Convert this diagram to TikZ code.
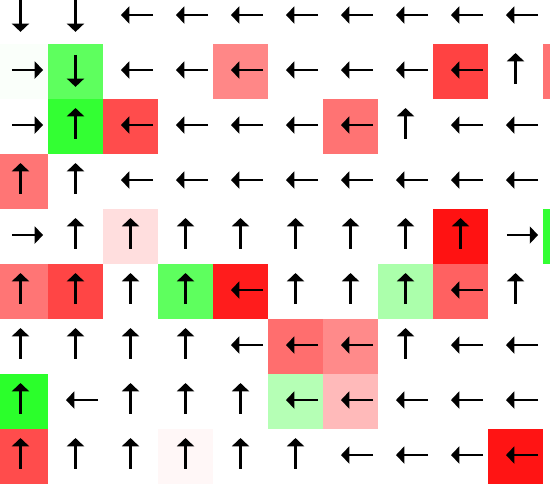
\documentclass[tikz,border=0pt]{standalone}
\usepackage{tikz}
\usetikzlibrary{arrows.meta}

\begin{document}
\begin{tikzpicture}[x=1cm, y=1cm, mv/.style={line width=1.3pt, -{Triangle[width=8.8pt, length=4.3pt]}}]
    \useasboundingbox (-0.3727, 0.3) rectangle (9.6273, -8.6091);

%cell (c, r) is centred at (c, -r)
%green = gain, red = loss

    % coloured cells
    \foreach \c/\r/\k in {0/1/green!2, 1/1/green!63, 4/1/red!47, 8/1/red!74, 10/1/red!55,
            1/2/green!80, 2/2/red!70, 6/2/red!55,
            0/3/red!54,
            2/4/red!13, 8/4/red!93, 10/4/green!80,
            0/5/red!54, 1/5/red!73, 3/5/green!63, 4/5/red!89, 7/5/green!33, 8/5/red!62,
            5/6/red!57, 6/6/red!46,
            0/7/green!83, 5/7/green!29, 6/7/red!27,
            0/8/red!70, 3/8/red!3, 9/8/red!92}
        \fill[\k] (\c-0.5, -\r-0.5) rectangle (\c+0.5, -\r+0.5);

    % down
    \foreach \c/\r in {0/0, 1/0, 1/1}
        \draw[mv] (\c, -\r+0.30) -- (\c, -\r-0.28);
    % right
    \foreach \c/\r in {0/1, 0/2, 0/4, 9/4}
        \draw[mv] (\c-0.155, -\r+0.027) -- (\c+0.41, -\r+0.027);
    % up
    \foreach \c/\r in {9/1, 1/2, 7/2, 0/3, 1/3,
            1/4, 2/4, 3/4, 4/4, 5/4, 6/4, 7/4, 8/4,
            0/5, 1/5, 2/5, 3/5, 5/5, 6/5, 7/5, 9/5,
            0/6, 1/6, 2/6, 3/6, 7/6,
            0/7, 2/7, 3/7, 4/7,
            0/8, 1/8, 2/8, 3/8, 4/8, 5/8}
        \draw[mv] (\c, -\r-0.227) -- (\c, -\r+0.336);
    % left
    \foreach \c/\r in {2/0, 3/0, 4/0, 5/0, 6/0, 7/0, 8/0, 9/0,
            2/1, 3/1, 4/1, 5/1, 6/1, 7/1, 8/1,
            2/2, 3/2, 4/2, 5/2, 6/2, 8/2, 9/2,
            2/3, 3/3, 4/3, 5/3, 6/3, 7/3, 8/3, 9/3,
            4/5, 8/5,
            4/6, 5/6, 6/6, 8/6, 9/6,
            1/7, 5/7, 6/7, 7/7, 8/7, 9/7,
            6/8, 7/8, 8/8, 9/8}
        \draw[mv] (\c+0.41, -\r+0.027) -- (\c-0.173, -\r+0.027);

\end{tikzpicture}
\end{document}
